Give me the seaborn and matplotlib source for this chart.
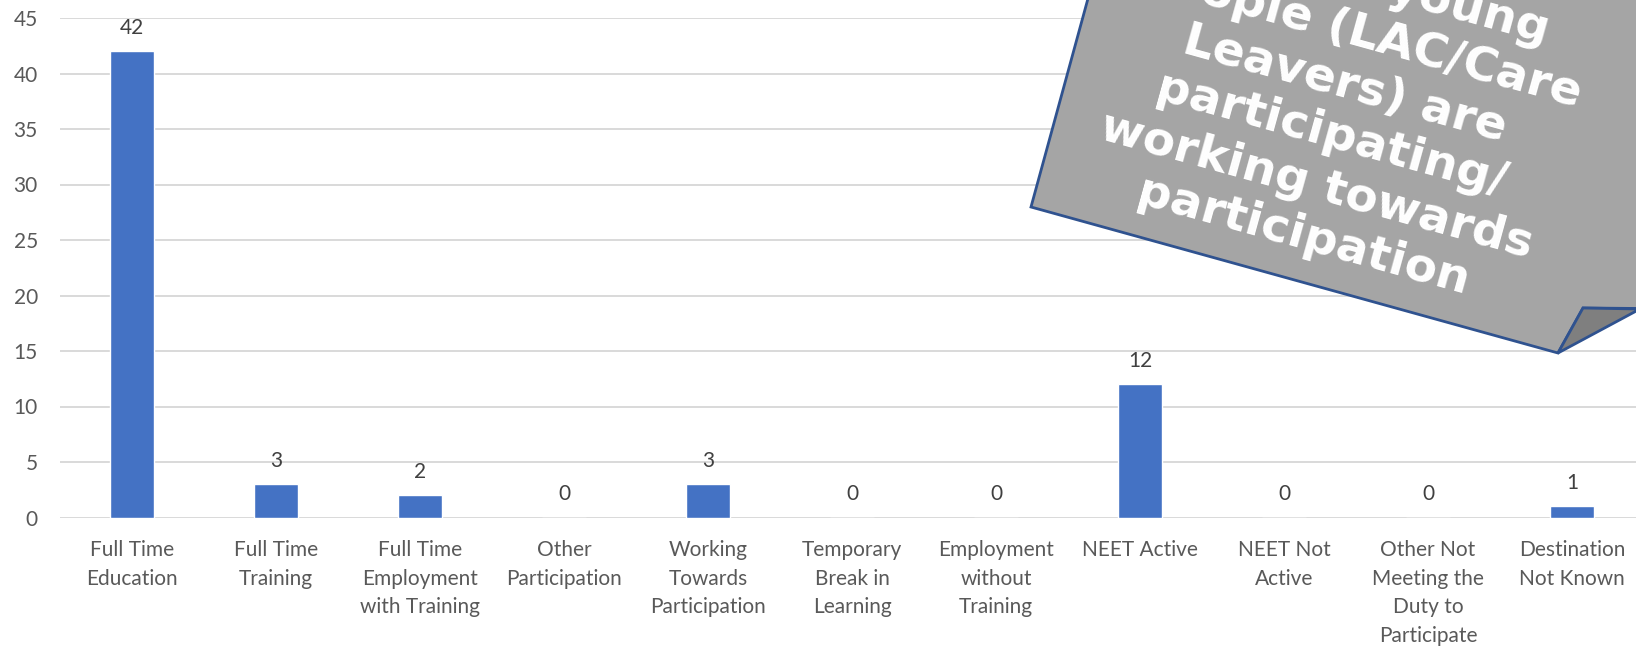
import matplotlib
matplotlib.use('Agg')
import matplotlib.pyplot as plt
from matplotlib.patches import Polygon
import pandas as pd
import seaborn as sns

# Destination categories and the counts shown on the bars
categories = [
    'Full Time Education', 'Full Time Training', 'Full Time Employment with Training',
    'Other Participation', 'Working Towards Participation', 'Temporary Break in Learning',
    'Employment without Training', 'NEET Active', 'NEET Not Active',
    'Other Not Meeting the Duty to Participate', 'Destination Not Known',
]
tick_labels = [
    'Full Time\nEducation', 'Full Time\nTraining', 'Full Time\nEmployment\nwith Training',
    'Other\nParticipation', 'Working\nTowards\nParticipation', 'Temporary\nBreak in\nLearning',
    'Employment\nwithout\nTraining', 'NEET Active', 'NEET Not\nActive',
    'Other Not\nMeeting the\nDuty to\nParticipate', 'Destination\nNot Known',
]
counts = [42, 3, 2, 0, 3, 0, 0, 12, 0, 0, 1]
y_ticks = [0, 5, 10, 15, 20, 25, 30, 35, 40, 45]

callout_text = ('79% of young\npeople (LAC/Care\nLeavers) are\nparticipating/\n'
                'working towards\nparticipation')

BAR_COLOUR = '#4472C4'
GRID_COLOUR = '#D9D9D9'
TEXT_COLOUR = '#595959'
W, H = 1636, 648

sns.set_theme(style='white')
plt.rcParams['font.family'] = ['Lato', 'DejaVu Sans']

df = pd.DataFrame({'category': categories, 'count': counts})

fig = plt.figure(figsize=(W / 100, H / 100), dpi=100)
ax = fig.add_axes([60 / W, 1 - 517.5 / H, 1584 / W, 499.5 / H])

sns.barplot(data=df, x='category', y='count', color=BAR_COLOUR, width=0.306,
            saturation=1, ax=ax, zorder=2)

ax.set_ylim(0, 45)
ax.set_xlim(-0.5, len(categories) - 0.5)
ax.set_yticks(y_ticks)
ax.yaxis.grid(True, color=GRID_COLOUR, lw=1.4)
ax.set_axisbelow(True)
for s in ax.spines.values():
    s.set_visible(False)
ax.set_xticks(range(len(categories)))
ax.set_xticklabels(tick_labels, linespacing=1.55, va='top')
ax.tick_params(axis='x', length=0, pad=16, labelsize=15, labelcolor=TEXT_COLOUR)
ax.tick_params(axis='y', length=0, pad=16, labelsize=15, labelcolor=TEXT_COLOUR)
ax.set_xlabel('')
ax.set_ylabel('')

# value labels above each bar
for i, v in enumerate(counts):
    ax.annotate(str(v), (i, v), xytext=(0, 17), textcoords='offset points',
                ha='center', va='center', fontsize=15, color='#404040')


def px(pts):
    # image pixel coords (y down) -> figure fraction
    return [(x / W, 1 - y / H) for x, y in pts]


# rotated grey callout with a curled corner
main_shape = [(1031, 207), (1558, 353), (1583, 308), (1700, 309), (1700, -60), (1104, -60)]
fold_shape = [(1558, 353), (1583, 308), (1640, 309)]
fig.add_artist(Polygon(px(main_shape), closed=True, transform=fig.transFigure,
                       facecolor='#A5A5A5', edgecolor='#2F528F', lw=2))
fig.add_artist(Polygon(px(fold_shape), closed=True, transform=fig.transFigure,
                       facecolor='#7F7F7F', edgecolor='#2F528F', lw=2))
fig.text(1338 / W, 1 - 110 / H, callout_text, rotation=-15.5, rotation_mode='anchor',
         ha='center', va='center', multialignment='center', color='white',
         fontsize=34, fontweight='bold', linespacing=1.22, family=['DejaVu Sans'])

fig.savefig('out.png', dpi=100)
